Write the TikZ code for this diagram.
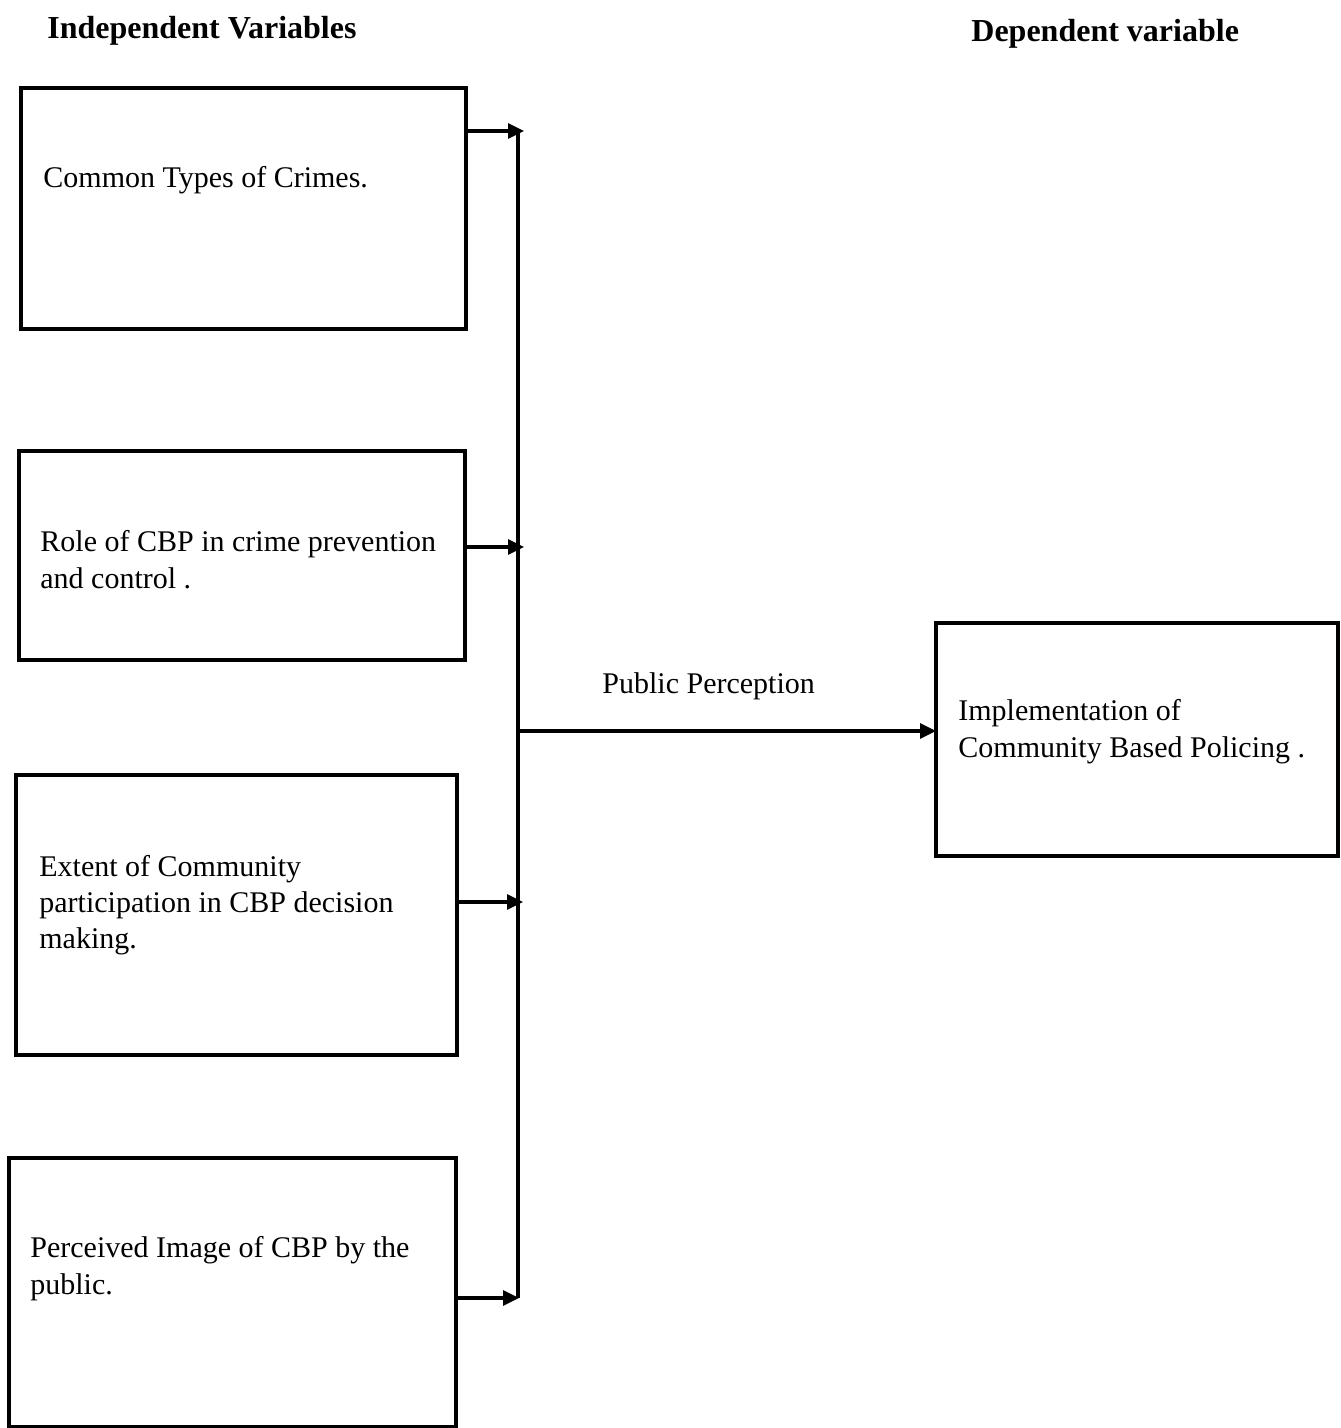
\documentclass[tikz,border=0pt]{standalone}
\usepackage{fontspec}
\setmainfont{Liberation Serif}
\usetikzlibrary{arrows.meta}
\begin{document}
\begin{tikzpicture}[x=0.5pt,y=-0.5pt,
  box/.style={draw=black,line width=1.6pt,inner sep=0pt,outer sep=0pt,fill=none},
  txt/.style={anchor=base west,inner sep=0pt,font=\fontsize{15pt}{18pt}\selectfont},
  head/.style={anchor=base west,inner sep=0pt,font=\fontsize{16pt}{19pt}\selectfont\bfseries},
  conn/.style={line width=1.6pt},
  arr/.style={line width=1.6pt,-{Triangle[length=8pt,width=7.5pt]}}]
\useasboundingbox (0,0) rectangle (1340,1428);
% headings
\node[head] (hi) at (47,39) {Independent Variables};
\node[head] (hd) at (971,42) {Dependent variable};
% boxes
\node[box,minimum width=222.5pt,minimum height=120.5pt] (b1) at (243.5,208.5) {};
\node[box,minimum width=223pt,minimum height=104.5pt] (b2) at (242,555.5) {};
\node[box,minimum width=220.5pt,minimum height=140pt] (b3) at (236.5,915) {};
\node[box,minimum width=223.5pt,minimum height=134.5pt] (b4) at (232.5,1292.5) {};
\node[box,minimum width=201pt,minimum height=116.5pt] (rb) at (1137,739.5) {};
% texts
\node[txt] (t1) at (43,188) {Common Types of Crimes.};
\node[txt] (t2a) at (40,551) {Role of CBP in crime prevention};
\node[txt] (t2b) at (40,588) {and control .};
\node[txt] (t3a) at (39,876) {Extent of Community};
\node[txt] (t3b) at (39,912) {participation in CBP decision};
\node[txt] (t3c) at (39,948) {making.};
\node[txt] (t4a) at (30,1257) {Perceived Image of CBP by the};
\node[txt] (t4b) at (30,1294) {public.};
\node[txt] (r1) at (958,720) {Implementation of};
\node[txt] (r2) at (958,757) {Community Based Policing .};
\node[txt] (pp) at (602,693) {Public Perception};
% connectors
\coordinate (j1) at (524,131);
\coordinate (j2) at (524,547);
\coordinate (j3) at (523,902);
\coordinate (j4) at (519,1298);
\coordinate (bt) at (518,133);
\coordinate (bb) at (518,1298);
\coordinate (bm) at (518,731);
\draw[conn] (bt) -- (bb);
\draw[arr] (b1.east |- j1) -- (j1);
\draw[arr] (b2.east |- j2) -- (j2);
\draw[arr] (b3.east |- j3) -- (j3);
\draw[arr] (b4.east |- j4) -- (j4);
\draw[arr] (bm) -- (rb.west |- bm);
\end{tikzpicture}
\end{document}
